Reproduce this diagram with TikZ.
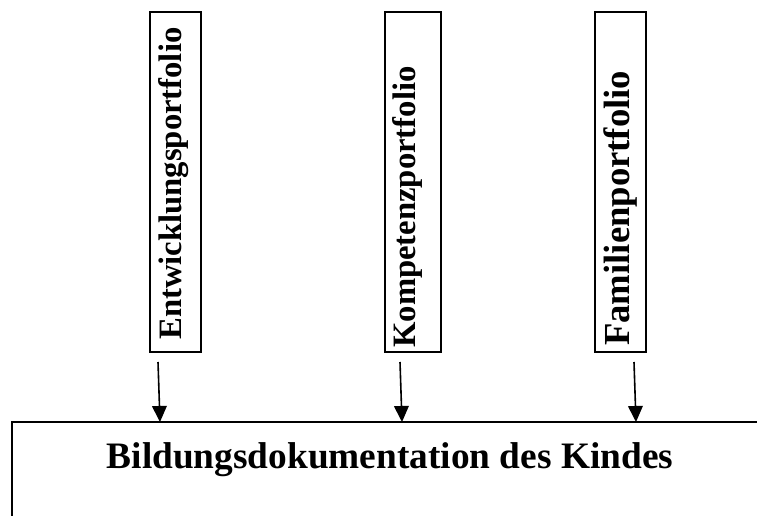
\documentclass[tikz,border=0pt]{standalone}
\usepackage{fontspec}
\setmainfont{Liberation Serif}
\usetikzlibrary{arrows.meta}
\begin{document}
\begin{tikzpicture}[x=0.75pt,y=-0.75pt,
  box/.style={draw,line width=1.5pt,inner sep=0pt,rectangle},
  vtext/.style={rotate=90,anchor=base west,inner sep=0pt,font=\fontsize{24.5}{28}\selectfont\bfseries},
  arr/.style={line width=1.2pt,-{Triangle[width=11pt,length=12pt]}}]
\useasboundingbox (0,0) rectangle (757,515);
% top boxes
\node[box,minimum width=38.25pt,minimum height=255pt] (b1) at (175.5,182) {};
\node[box,minimum width=42pt,minimum height=255pt] (b2) at (413,182) {};
\node[box,minimum width=38.25pt,minimum height=255pt] (b3) at (620.5,182) {};
\node[vtext] (t1) at (181,340) {Entwicklungsportfolio};
\node[vtext] (t2) at (415,348) {Kompetenzportfolio};
\node[vtext,font=\fontsize{27.5}{32}\selectfont\bfseries] (t3) at (629,346) {Familienportfolio};
% bottom box
\node[box,minimum width=568.5pt,minimum height=81pt] (bot) at (391,476) {};
\node[anchor=base,inner sep=0pt,font=\fontsize{28}{32}\selectfont\bfseries] (title) at (390,468) {Bildungsdokumentation des Kindes};
% arrows
\coordinate (s1) at (158,362); \coordinate (e1) at (160,422);
\coordinate (s2) at (400,362); \coordinate (e2) at (402,422);
\coordinate (s3) at (634,362); \coordinate (e3) at (636,422);
\draw[arr] (s1) -- (e1);
\draw[arr] (s2) -- (e2);
\draw[arr] (s3) -- (e3);
\end{tikzpicture}
\end{document}
